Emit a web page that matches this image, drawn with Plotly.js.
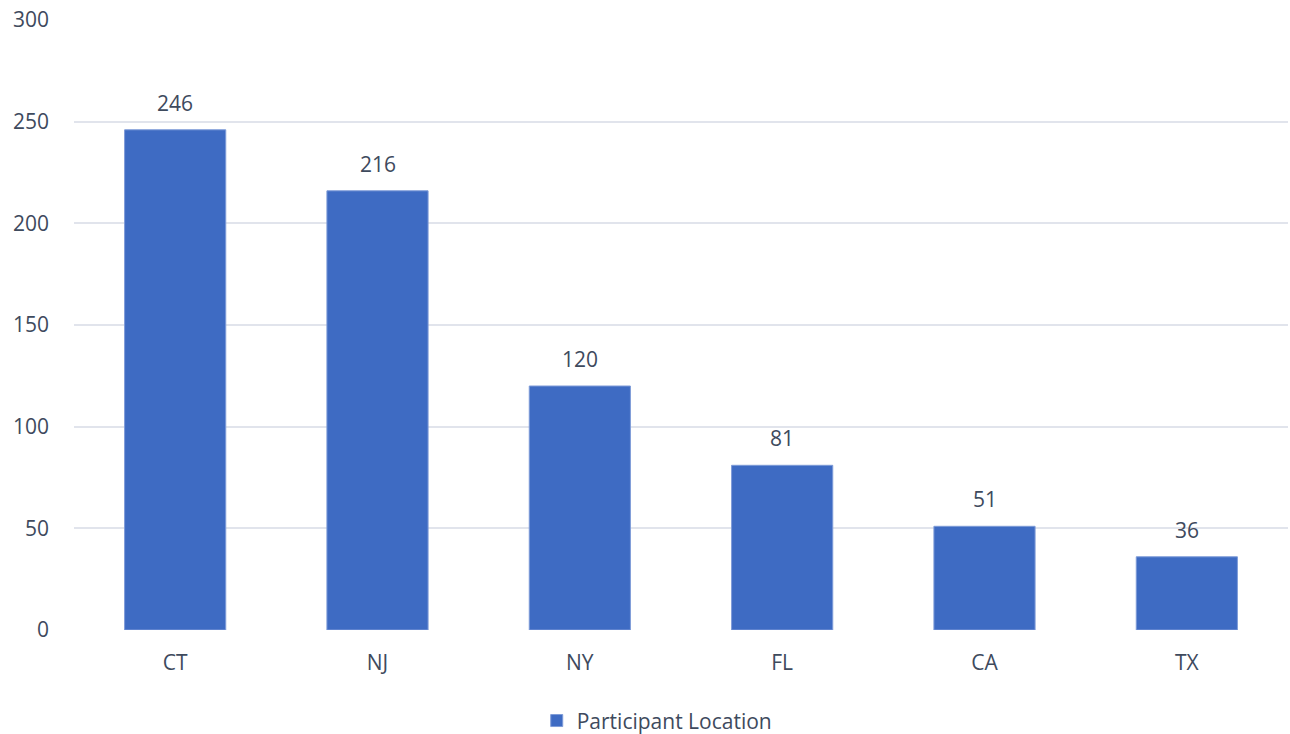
<!DOCTYPE html>
<html>
<head>
<meta charset="utf-8">
<script src="https://cdn.plot.ly/plotly-3.0.1.min.js"></script>
<style>html,body{margin:0;padding:0;background:#fff;}#chart{width:1290px;height:734px;}</style>
</head>
<body>
<div id="chart"></div>
<script>
const categories = ["CT", "NJ", "NY", "FL", "CA", "TX"];
const values = [246, 216, 120, 81, 51, 36];
const seriesName = "Participant Location";
const yTicks = [0, 50, 100, 150, 200, 250, 300];

const textColor = "#3E4A5D";
const fontFamily = "Open Sans, Noto Sans, sans-serif";
const fs = 21;

const trace = {
  type: "bar",
  x: categories,
  y: values,
  name: seriesName,
  marker: { color: "#3E6BC3", line: { color: "#7E9BD8", width: 1 } },
  hoverinfo: "x+y"
};

const annotations = categories.map((c, i) => ({
  x: c, y: values[i], text: String(values[i]),
  xref: "x", yref: "y", showarrow: false,
  yanchor: "bottom", yshift: 11,
  font: { size: fs, color: textColor, family: fontFamily }
}));

const layout = {
  width: 1290, height: 734,
  margin: { l: 74, r: 2, t: 20, b: 104, autoexpand: false },
  paper_bgcolor: "#fff", plot_bgcolor: "#fff",
  font: { family: fontFamily, color: textColor, size: fs },
  bargap: 0.5,
  showlegend: true,
  legend: { orientation: "h", x: 0.48, xanchor: "center", y: -0.149, yanchor: "middle",
            font: { size: fs, color: textColor } },
  xaxis: { type: "category", showgrid: false, showline: false, zeroline: false,
           ticks: "", tickfont: { size: fs, color: textColor }, ticklabelstandoff: 18 },
  yaxis: { range: [0, 300], tickvals: yTicks, ticktext: yTicks.map(String),
           showgrid: true, gridcolor: "#E1E4EC", gridwidth: 2, zeroline: false,
           showline: false, ticks: "", tickfont: { size: fs, color: textColor },
           ticklabelstandoff: 24 },
  annotations: annotations
};

Plotly.newPlot("chart", [trace], layout, { displayModeBar: false, staticPlot: true });
</script>
</body>
</html>
